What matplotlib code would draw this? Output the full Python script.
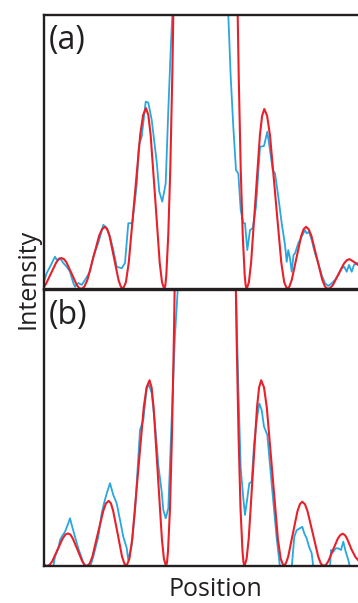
import matplotlib
matplotlib.use("Agg")
import matplotlib.pyplot as plt

plt.rcParams["font.family"] = ["Open Sans", "DejaVu Sans"]

RED = "#e8202a"
BLUE = "#2aa7df"
INK = "#231f20"

# ---- panel (a) -------------------------------------------------------------
a_model_pos = [0, 1.75, 7, 12.25, 14.875, 17.5, 20, 22.5, 27.5, 32.5, 35, 37.5,
               40.44, 43.4, 49.25, 55.1, 58.06, 61, 63.25, 65.5, 70, 74.5, 76.75, 79,
               81.9, 84.75, 90.5, 96.25, 99.1, 102, 104.3, 106.6, 111.2, 115.7, 118, 120.3,
               121.3, 122.3, 124.3, 126.3, 128.3, 130.3, 135, 161.5, 188,
               192.7, 194.7, 196.7, 198.7, 200.7, 201.7, 202.7,
               204.9, 207.1, 211.5, 215.9, 218.1, 220.3, 223.1, 226, 231.6, 237.3, 240.2, 243,
               245.4, 247.75, 252.5, 257.25, 259.6, 262, 264.7, 267.4, 272.8, 278.3, 281, 283.7,
               286.4, 289.15, 294.6, 300, 302.8, 305.5, 309.5, 312, 314]
a_model_int = [0.008, 0.017, 0.057, 0.097, 0.109, 0.113, 0.109, 0.097, 0.057, 0.017, 0.004, 0,
               0.009, 0.033, 0.114, 0.194, 0.218, 0.227, 0.218, 0.194, 0.114, 0.033, 0.009, 0,
               0.025, 0.096, 0.33, 0.564, 0.635, 0.66, 0.635, 0.564, 0.33, 0.096, 0.025, 0,
               0.012, 0.05, 0.2, 0.44, 0.78, 1.22, 2.7, 20, 2.7,
               1.22, 0.78, 0.44, 0.2, 0.05, 0.012, 0,
               0.025, 0.096, 0.329, 0.561, 0.632, 0.657, 0.632, 0.561, 0.329, 0.096, 0.025, 0,
               0.009, 0.033, 0.114, 0.194, 0.218, 0.227, 0.218, 0.194, 0.114, 0.033, 0.009, 0,
               0.004, 0.016, 0.055, 0.093, 0.105, 0.109, 0.1, 0.093, 0.088]

a_meas_pos = [0, 2.7, 6, 11, 12.7, 16, 19.3, 22.7, 26, 29.3, 31, 34.3, 37.7,
              41, 46, 49.3, 54.3, 59.3, 62.7, 66, 69.3, 72.7, 77.7, 81, 84.3,
              88.3, 92.7, 95, 97.7, 101.7, 104.3, 107.7, 112.7, 115.3, 118.3,
              121.7, 124.3, 127, 128.3, 132,
              182, 184.3, 186.7, 189.3, 192, 194.3, 196.7, 199.3, 201, 203.3,
              206, 208.7, 212, 216, 220, 223.3, 226, 228.7, 231, 234.3, 237.7,
              241, 242.7, 244.3, 246, 247.7, 249.5, 251, 254.3, 257.7, 261,
              262.7, 265, 267.7, 271, 274.3, 277.7, 281, 284.3, 287.7, 291,
              294.3, 297.7, 300.3, 302.7, 305, 307.7, 310, 312.7, 314]
a_meas_int = [0.027, 0.058, 0.081, 0.118, 0.106, 0.113, 0.095, 0.081, 0.063,
              0.022, 0.008, 0.022, 0.015, 0.033, 0.063, 0.118, 0.168, 0.234,
              0.223, 0.191, 0.142, 0.081, 0.076, 0.095, 0.24, 0.24, 0.38,
              0.526, 0.556, 0.684, 0.68, 0.617, 0.464, 0.355, 0.319, 0.386,
              0.653, 0.898, 1.0, 2.0,
              2.0, 1.0, 0.775, 0.592, 0.434, 0.422, 0.288, 0.24, 0.24, 0.142,
              0.215, 0.222, 0.3, 0.519, 0.522, 0.574, 0.507, 0.434, 0.422,
              0.337, 0.24, 0.161, 0.099, 0.142, 0.112, 0.063, 0.124, 0.13,
              0.167, 0.191, 0.215, 0.203, 0.209, 0.179, 0.13, 0.094, 0.051,
              0.021, 0.011, 0.021, 0.033, 0.051, 0.076, 0.081, 0.063, 0.088,
              0.063, 0.088, 0.094, 0.095]

# ---- panel (b) -------------------------------------------------------------
b_model_pos = [0, 1.5, 3, 5.6, 8.25, 13.5, 18.75, 21.4, 24, 26.4, 28.75, 33.5, 38.25, 40.6, 43,
               45.7, 48.4, 53.85, 59.3, 62, 64.7, 66.9, 69.15, 73.6, 78.05, 80.3, 82.5,
               85.4, 88.25, 94, 99.75, 102.6, 105.5, 107.6, 109.6, 113.75, 117.9, 119.9, 122,
               123, 124, 126, 128, 130, 132, 137, 161.2, 185.5,
               190.5, 192.5, 194.5, 196.5, 198.5, 199.5, 200.5,
               202.6, 204.7, 208.85, 213, 215.1, 217.2, 220, 222.8, 228.35, 233.9, 236.7, 239.5,
               241.8, 244.2, 248.85, 253.5, 255.9, 258.2, 260.9, 263.5, 268.85, 274.2, 276.8, 279.5,
               281.9, 284.3, 289.1, 293.9, 296.3, 298.7, 300.9, 303, 307.5, 311.5, 314]
b_model_int = [0.006, 0.002, 0, 0.004, 0.017, 0.059, 0.1, 0.114, 0.118, 0.114, 0.1, 0.059, 0.017, 0.004, 0,
               0.009, 0.034, 0.118, 0.2, 0.227, 0.236, 0.227, 0.2, 0.118, 0.034, 0.009, 0,
               0.026, 0.098, 0.337, 0.575, 0.647, 0.673, 0.647, 0.575, 0.337, 0.098, 0.026, 0,
               0.013, 0.053, 0.21, 0.48, 0.85, 1.33, 3, 20, 3,
               1.33, 0.85, 0.48, 0.21, 0.053, 0.013, 0,
               0.026, 0.098, 0.337, 0.575, 0.647, 0.673, 0.647, 0.575, 0.337, 0.098, 0.026, 0,
               0.009, 0.034, 0.117, 0.199, 0.224, 0.233, 0.224, 0.199, 0.117, 0.034, 0.009, 0,
               0.004, 0.017, 0.059, 0.1, 0.112, 0.117, 0.112, 0.1, 0.06, 0.032, 0.022]

b_meas_pos = [0, 8, 9.3, 11, 14.3, 16, 17.7, 21, 24.3, 26, 27.7, 31, 34.3,
              37.7, 41, 46, 49.3, 54.3, 57.7, 60, 62.7, 66, 69.3, 72.7, 76,
              79.3, 82.7, 84.3, 87.7, 91, 96, 99.3, 102.7, 105, 107.7, 111,
              114.3, 117.7, 119.3, 121.7, 124.3, 127.7, 131, 133.7, 136,
              189, 192, 194.3, 196.7, 199.3, 201, 203.3, 205.3, 207.7, 210,
              212.7, 215.3, 217.7, 220, 223.3, 226, 229.3, 232.7, 236,
              247.7, 250.3, 252.7, 256, 258.3, 260.3, 262.7, 265, 267.7,
              269.3, 286, 287, 289.3, 291.7, 294.3, 297, 299.3, 301.7, 304.3,
              306, 314]
b_meas_int = [-0.01, -0.01, 0, 0.034, 0.064, 0.094, 0.106, 0.124, 0.155,
              0.173, 0.149, 0.106, 0.064, 0.029, -0.005, -0.005, 0.034,
              0.106, 0.191, 0.227, 0.263, 0.3, 0.257, 0.227, 0.167, 0.106,
              0.065, 0.022, 0.076, 0.197, 0.493, 0.529, 0.644, 0.656, 0.627,
              0.514, 0.366, 0.269, 0.203, 0.173, 0.209, 0.535, 0.837, 1.0,
              2.0,
              2.0, 1.0, 0.649, 0.354, 0.246, 0.185, 0.245, 0.3, 0.305, 0.438,
              0.529, 0.589, 0.565, 0.505, 0.475, 0.366, 0.233, 0.1, -0.005,
              -0.005, 0.106, 0.13, 0.137, 0.142, 0.118, 0.1, 0.07, 0.046,
              -0.005, -0.005, 0.058, 0.052, 0.064, 0.064, 0.058, 0.088,
              0.052, 0.022, -0.005, -0.005]

panels = [
    ("(a)", a_meas_pos, a_meas_int, a_model_pos, a_model_int),
    ("(b)", b_meas_pos, b_meas_int, b_model_pos, b_model_int),
]

W, H = 358, 603
fig = plt.figure(figsize=(W / 100, H / 100), dpi=100)
# axes boxes in pixels: (left, top, right, bottom)
boxes = [(44, 15, 358, 289), (44, 290, 358, 566)]

for (label, mp, mi, rp, ri), (l, t, r, b) in zip(panels, boxes):
    ax = fig.add_axes([l / W, 1 - b / H, (r - l) / W, (b - t) / H])
    ax.plot(mp, mi, color=BLUE, lw=1.3, solid_joinstyle="round")
    ax.plot(rp, ri, color=RED, lw=1.5, solid_joinstyle="round")
    ax.set_xlim(0, 314)
    ax.set_ylim(0, 1)
    ax.set_xticks([])
    ax.set_yticks([])
    ax.spines["right"].set_visible(False)
    for side in ("left", "top", "bottom"):
        ax.spines[side].set_color(INK)
        ax.spines[side].set_linewidth(1.7)
    ax.text(0.014, 0.966, label, transform=ax.transAxes, ha="left", va="top",
            fontsize=23, color=INK)

fig.text(28 / W, 1 - 279 / H, "Intensity", rotation=90, ha="center",
         va="center", fontsize=18, color=INK)
fig.text(215 / W, 1 - 589 / H, "Position", ha="center", va="center",
         fontsize=18, color=INK)

fig.savefig("out.png", dpi=100)
